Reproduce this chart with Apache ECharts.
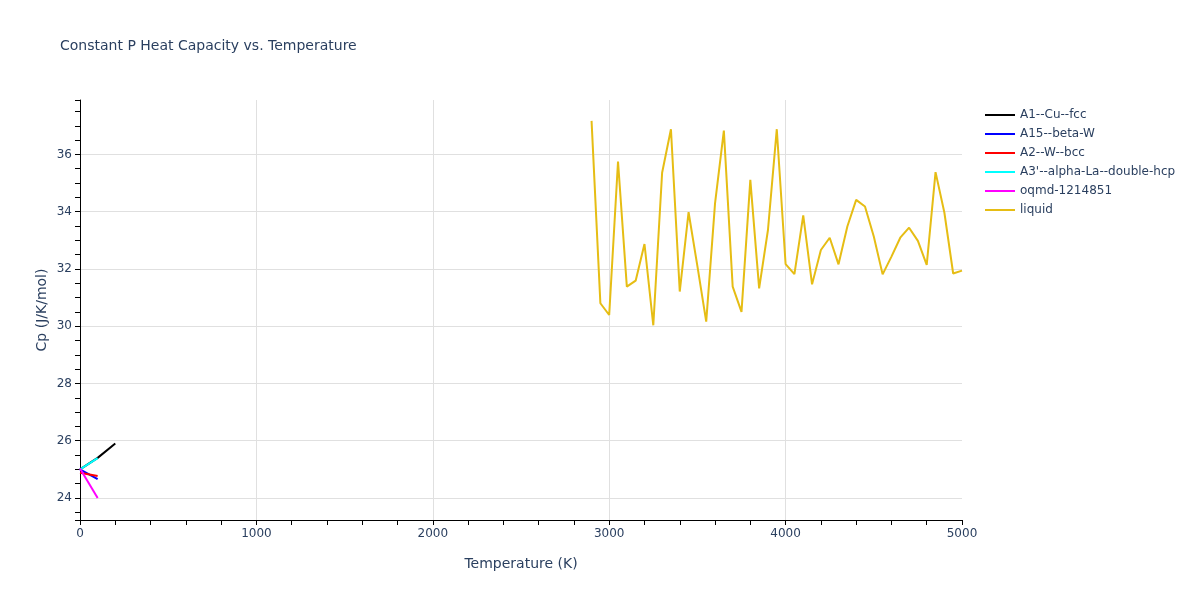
<!DOCTYPE html>
<html>
<head>
<meta charset="utf-8">
<script src="https://cdn.jsdelivr.net/npm/echarts@6/dist/echarts.min.js"></script>
<style>
  html, body { margin: 0; padding: 0; background: #fff; }
  #main { width: 1200px; height: 600px; }
</style>
</head>
<body>
<div id="main"></div>
<script>
// 各相的温度 (K) 和 Cp (J/K/mol)
var cuFccT = [0, 100, 200];
var cuFccCp = [25.0, 25.4, 25.9];
var betaWT = [0, 100];
var betaWCp = [25.0, 24.66];
var wBccT = [0, 100];
var wBccCp = [24.88, 24.77];
var laHcpT = [0, 100];
var laHcpCp = [25.0, 25.39];
var oqmdT = [0, 100];
var oqmdCp = [25.03, 24.0];
var liquidT = [2900, 2950, 3000, 3050, 3100, 3150, 3200, 3250, 3300, 3350,
    3400, 3450, 3500, 3550, 3600, 3650, 3700, 3750, 3800, 3850,
    3900, 3950, 4000, 4050, 4100, 4150, 4200, 4250, 4300, 4350,
    4400, 4450, 4500, 4550, 4600, 4650, 4700, 4750, 4800, 4850,
    4900, 4950, 5000];
var liquidCp = [37.17, 30.80, 30.39, 35.75, 31.38, 31.59, 32.87, 30.03, 35.36, 36.88,
    31.21, 33.98, 32.10, 30.16, 34.29, 36.83, 31.38, 30.50, 35.11, 31.32,
    33.36, 36.88, 32.17, 31.82, 33.87, 31.46, 32.66, 33.09, 32.16, 33.48,
    34.41, 34.18, 33.13, 31.81, 32.43, 33.09, 33.44, 32.98, 32.14, 35.38,
    33.97, 31.84, 31.94];

var textColor = '#2a3f5f';
var font = '"DejaVu Sans", Verdana, Arial, sans-serif';

function pairs(xs, ys) {
    var out = [];
    for (var i = 0; i < xs.length; i++) {
        out.push([xs[i], ys[i]]);
    }
    return out;
}

function line(name, color, xs, ys) {
    return {
        name: name,
        type: 'line',
        data: pairs(xs, ys),
        showSymbol: false,
        symbol: 'none',
        lineStyle: { color: color, width: 2 },
        itemStyle: { color: color },
        clip: true
    };
}

var myChart = echarts.init(document.getElementById('main'));

var option = {
    backgroundColor: '#fff',
    animation: false,
    textStyle: { fontFamily: font },
    title: {
        text: 'Constant P Heat Capacity vs. Temperature',
        left: 55,
        top: 34,
        textStyle: { color: textColor, fontSize: 14, fontWeight: 'normal', fontFamily: font }
    },
    legend: {
        orient: 'vertical',
        left: 980,
        top: 104,
        itemWidth: 30,
        itemHeight: 2,
        itemGap: 7,
        icon: 'rect',
        textStyle: { color: textColor, fontSize: 12, fontFamily: font }
    },
    grid: {
        left: 80,
        right: 238,
        top: 100,
        bottom: 80
    },
    xAxis: {
        type: 'value',
        min: 0,
        max: 5000,
        interval: 1000,
        name: 'Temperature (K)',
        nameLocation: 'middle',
        nameGap: 37,
        nameTextStyle: { color: textColor, fontSize: 14, fontFamily: font },
        axisLine: { show: true, onZero: false, lineStyle: { color: '#000', width: 1 } },
        axisTick: { show: true, length: 5, lineStyle: { color: '#000' } },
        minorTick: { show: true, splitNumber: 5, length: 5, lineStyle: { color: '#000' } },
        axisLabel: {
            color: textColor,
            fontSize: 12,
            margin: 8,
            formatter: function (v) { return String(v); }
        },
        splitLine: { show: true, showMinLine: false, showMaxLine: false, lineStyle: { color: '#e0e0e0', width: 1 } }
    },
    yAxis: {
        type: 'value',
        min: 23.23,
        max: 37.9,
        minInterval: 2,
        maxInterval: 2,
        splitNumber: 7,
        name: 'Cp (J/K/mol)',
        nameLocation: 'middle',
        nameGap: 31,
        nameMoveOverlap: false,
        nameTextStyle: { color: textColor, fontSize: 14, fontFamily: font },
        axisLine: { show: true, onZero: false, lineStyle: { color: '#000', width: 1 } },
        axisTick: { show: true, length: 5, lineStyle: { color: '#000' } },
        minorTick: { show: true, splitNumber: 4, length: 5, lineStyle: { color: '#000' } },
        axisLabel: {
            color: textColor,
            fontSize: 12,
            margin: 8,
            showMinLabel: false,
            showMaxLabel: false
        },
        splitLine: { show: true, showMinLine: false, showMaxLine: false, lineStyle: { color: '#e0e0e0', width: 1 } }
    },
    series: [
        line('A1--Cu--fcc', '#000000', cuFccT, cuFccCp),
        line('A15--beta-W', '#0000ff', betaWT, betaWCp),
        line('A2--W--bcc', '#ff0000', wBccT, wBccCp),
        line("A3'--alpha-La--double-hcp", '#00ffff', laHcpT, laHcpCp),
        line('oqmd-1214851', '#ff00ff', oqmdT, oqmdCp),
        line('liquid', '#e6bd14', liquidT, liquidCp)
    ]
};

myChart.setOption(option);
</script>
</body>
</html>
